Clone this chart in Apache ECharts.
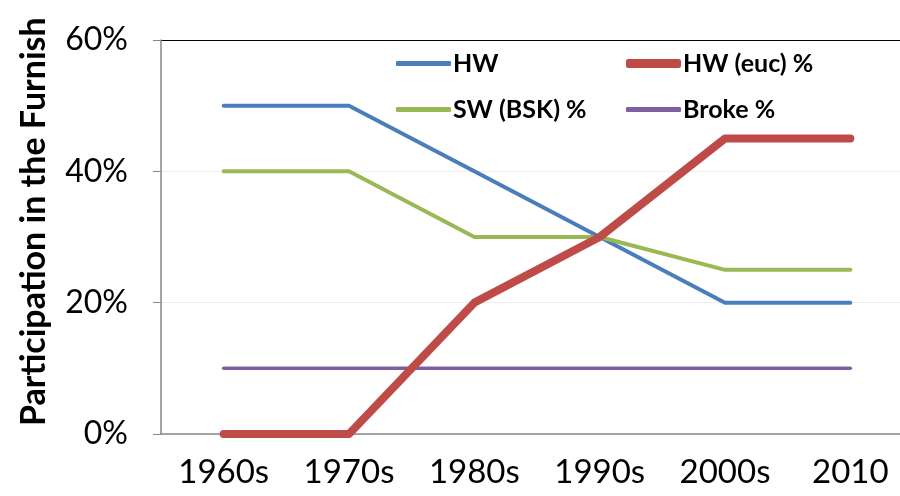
<!DOCTYPE html>
<html>
<head>
<meta charset="utf-8">
<script src="https://cdn.jsdelivr.net/npm/echarts@6/dist/echarts.min.js"></script>
<style>
  html, body { margin: 0; padding: 0; background: #fff; }
  #chartmain { width: 900px; height: 496px; }
</style>
</head>
<body>
<div id="chartmain"></div>
<script>
var decades = ['1960s', '1970s', '1980s', '1990s', '2000s', '2010']
var hw = [50, 50, 40, 30, 20, 20]
var hwEuc = [0, 0, 20, 30, 45, 45]
var swBsk = [40, 40, 30, 30, 25, 25]
var broke = [10, 10, 10, 10, 10, 10]
var yTicks = [0, 20, 40, 60]

var fontFamily = 'Lato, "Open Sans", sans-serif'

function lineSeries(name, data, color, width) {
  return {
    name: name,
    type: 'line',
    symbol: 'none',
    data: data,
    z: width > 5 ? 3 : 2,
    itemStyle: { color: color },
    lineStyle: { color: color, width: width, cap: 'round', join: 'round' },
  }
}

// one legend per entry so each keeps its own line thickness
function legendItem(name, left, middle, height) {
  return {
    orient: 'horizontal',
    left: left,
    top: middle - 15,
    padding: 0,
    itemWidth: 55,
    itemHeight: height,
    icon: 'roundRect',
    textStyle: {
      fontSize: 25,
      fontWeight: 'bold',
      color: '#000',
      fontFamily: fontFamily,
      padding: [0, 0, 0, -3],
    },
    data: [name],
  }
}

var option = {
  backgroundColor: '#fff',
  animation: false,
  textStyle: { fontFamily: fontFamily },
  grid: {
    left: 161,
    width: 752,
    top: 40,
    bottom: 62,
    outerBoundsMode: 'none',
    containLabel: false,
  },
  legend: [
    legendItem('HW', 396, 66, 5),
    legendItem('SW (BSK) %', 396, 112, 5),
    legendItem('HW (euc) %', 626, 66, 9),
    legendItem('Broke %', 626, 112, 5),
  ],
  xAxis: {
    type: 'category',
    data: decades,
    boundaryGap: true,
    axisLine: { show: true, lineStyle: { color: '#868686', width: 1.5 } },
    axisTick: { show: false },
    axisLabel: { color: '#000', fontSize: 33, margin: 22, fontFamily: fontFamily },
    splitLine: { show: false },
  },
  yAxis: {
    type: 'value',
    min: yTicks[0],
    max: yTicks[yTicks.length - 1],
    interval: yTicks[1] - yTicks[0],
    axisLine: { show: true, lineStyle: { color: '#868686', width: 1.5 } },
    axisTick: { show: true, inside: false, length: 8, lineStyle: { color: '#868686' } },
    axisLabel: {
      color: '#000',
      fontSize: 32,
      margin: 33,
      fontFamily: fontFamily,
      formatter: '{value}%',
    },
    splitLine: {
      show: true,
      lineStyle: { color: ['#eeeeee', '#eeeeee', '#eeeeee', '#000000'], width: 1 },
    },
  },
  graphic: [
    {
      type: 'text',
      x: 34,
      y: 426,
      rotation: Math.PI / 2,
      style: {
        text: 'Participation in the Furnish',
        font: 'bold 34px ' + fontFamily,
        fill: '#000',
        align: 'left',
        verticalAlign: 'middle',
      },
    },
  ],
  series: [
    lineSeries('HW', hw, '#4a7ebb', 4),
    lineSeries('HW (euc) %', hwEuc, '#be4b48', 8),
    lineSeries('SW (BSK) %', swBsk, '#98b954', 4),
    lineSeries('Broke %', broke, '#7d60a0', 3.5),
  ],
}

var myChart = echarts.init(document.getElementById('chartmain'))
myChart.setOption(option)
</script>
</body>
</html>
